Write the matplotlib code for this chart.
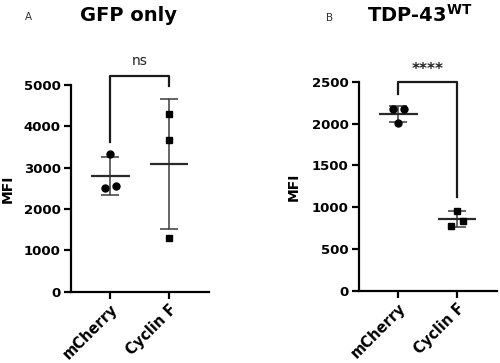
import numpy as np
import matplotlib.pyplot as plt

groups = ['mCherry', 'Cyclin F']

# panel A, GFP only
gfp_mcherry = [3325, 2515, 2565]
gfp_cyclinf = [4290, 3665, 1310]
# panel B, TDP-43 WT
tdp_mcherry = [2170, 2175, 2010]
tdp_cyclinf = [960, 780, 835]

# horizontal spread of replicate points (in category units)
gfp_offsets = [[0.0, -0.1, 0.1], [0.0, 0.0, 0.0]]
tdp_offsets = [[-0.1, 0.1, 0.0], [0.0, -0.1, 0.1]]


def scatter_panel(ax, data, offsets, ymax, yticks, bracket, star, star_y, star_kw):
    markers = ['o', 's']
    for i, vals in enumerate(data):
        vals = np.array(vals, dtype=float)
        xs = i + np.array(offsets[i])
        ax.plot(xs, vals, linestyle='none', marker=markers[i], markersize=5,
                color='black', zorder=3)
        m = vals.mean()
        sd = vals.std(ddof=1)
        ax.errorbar(i, m, yerr=sd, fmt='none', ecolor='#3a3a3a', elinewidth=1.1,
                    capsize=6.7, capthick=1.1, zorder=2)
        ax.hlines(m, i - 0.33, i + 0.33, color='#2a2a2a', linewidth=1.6, zorder=2)

    ax.set_xlim(-0.68, 1.68)
    ax.set_ylim(0, ymax)
    ax.set_yticks(yticks)
    ax.set_xticks([0, 1])
    ax.set_xticklabels(groups, rotation=45, ha='right', rotation_mode='anchor',
                       fontsize=10.5, fontweight='bold')
    for lbl in ax.get_yticklabels():
        lbl.set_fontweight('bold')
        lbl.set_fontsize(9.5)
    ax.spines['top'].set_visible(False)
    ax.spines['right'].set_visible(False)
    ax.spines['left'].set_linewidth(1.6)
    ax.spines['bottom'].set_linewidth(1.6)
    ax.tick_params(width=1.6, length=5, pad=2)
    ax.set_ylabel('MFI', fontsize=10, fontweight='bold')

    y0, ytop, y1 = bracket
    ax.plot([0, 0, 1, 1], [y0, ytop, ytop, y1], color='#1a1a1a', linewidth=1.6,
            clip_on=False)
    ax.text(0.5, star_y, star, ha='center', va='center', **star_kw)


fig = plt.figure(figsize=(5, 3.63), dpi=100)

ax1 = fig.add_axes([0.141, 0.196, 0.277, 0.570])
scatter_panel(ax1, [gfp_mcherry, gfp_cyclinf], gfp_offsets, 5000,
              [0, 1000, 2000, 3000, 4000, 5000], (3630, 5220, 4975),
              'ns', 5580, dict(fontsize=10, fontweight='normal', color='#222222'))
ax1.yaxis.set_label_coords(-0.40, 0.5)

ax2 = fig.add_axes([0.717, 0.198, 0.277, 0.577])
scatter_panel(ax2, [tdp_mcherry, tdp_cyclinf], tdp_offsets, 2500,
              [0, 500, 1000, 1500, 2000, 2500], (2355, 2500, 1125),
              '****', 2640, dict(fontsize=11, fontweight='bold', color='#222222'))
ax2.yaxis.set_label_coords(-0.42, 0.5)

fig.text(0.257, 0.958, 'GFP only', ha='center', va='center', fontsize=14,
         fontweight='bold')
fig.text(0.840, 0.958, r'TDP-43$^{\mathbf{WT}}$', ha='center', va='center',
         fontsize=14, fontweight='bold')
fig.text(0.056, 0.953, 'A', ha='center', va='center', fontsize=7.5, color='#333333')
fig.text(0.660, 0.950, 'B', ha='center', va='center', fontsize=7.5, color='#333333')

fig.savefig('out.png', dpi=100)
